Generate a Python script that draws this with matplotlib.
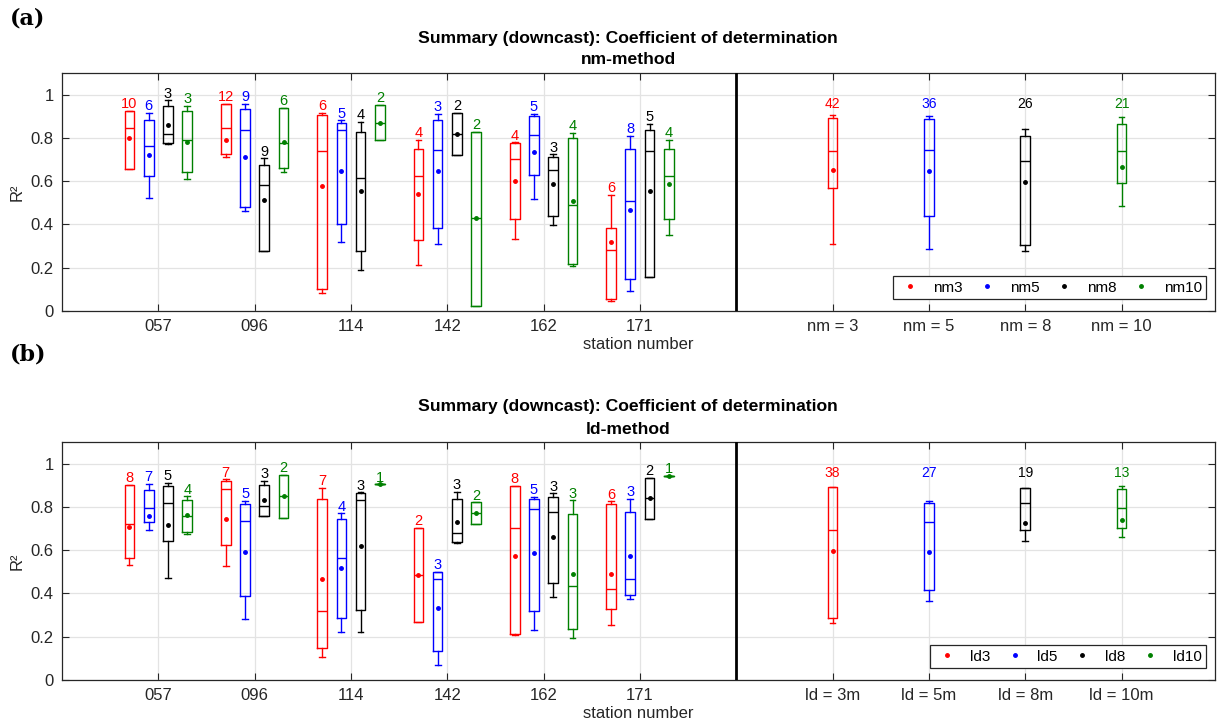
import matplotlib
matplotlib.use('Agg')
import matplotlib.pyplot as plt
from matplotlib.lines import Line2D
import numpy as np

plt.rcParams['font.family'] = ['Liberation Sans', 'DejaVu Sans']

# ---------------- data ----------------
stations = ['057', '096', '114', '142', '162', '171']
colors = ['#ff0000', '#0000ff', '#000000', '#008000']

# nm-method (rows: nm3, nm5, nm8, nm10 ; columns: stations)
nm_names = ['nm3', 'nm5', 'nm8', 'nm10']
nm_sum_ticks = ['nm = 3', 'nm = 5', 'nm = 8', 'nm = 10']
nm_counts = [[10, 12, 6, 4, 4, 6], [6, 9, 5, 3, 5, 8], [3, 9, 4, 2, 3, 5], [3, 6, 2, 2, 4, 4]]
nm_whislo = [[0.658, 0.710, 0.083, 0.214, 0.334, 0.048],
             [0.522, 0.461, 0.317, 0.311, 0.516, 0.091],
             [0.770, 0.276, 0.188, 0.720, 0.398, 0.156],
             [0.609, 0.644, 0.789, 0.025, 0.208, 0.350]]
nm_q1 = [[0.658, 0.727, 0.100, 0.328, 0.427, 0.055],
         [0.622, 0.479, 0.401, 0.384, 0.630, 0.149],
         [0.778, 0.276, 0.276, 0.720, 0.441, 0.156],
         [0.641, 0.663, 0.789, 0.025, 0.217, 0.425]]
nm_med = [[0.847, 0.847, 0.738, 0.626, 0.704, 0.282],
          [0.764, 0.838, 0.837, 0.746, 0.814, 0.508],
          [0.817, 0.584, 0.613, 0.820, 0.653, 0.738],
          [0.792, 0.775, 0.871, 0.428, 0.490, 0.626]]
nm_q3 = [[0.924, 0.957, 0.904, 0.750, 0.777, 0.385],
         [0.883, 0.935, 0.871, 0.883, 0.900, 0.750],
         [0.949, 0.676, 0.829, 0.917, 0.712, 0.838],
         [0.923, 0.937, 0.954, 0.829, 0.800, 0.749]]
nm_whishi = [[0.924, 0.957, 0.915, 0.792, 0.780, 0.538],
             [0.915, 0.958, 0.881, 0.912, 0.912, 0.809],
             [0.974, 0.706, 0.874, 0.917, 0.724, 0.866],
             [0.949, 0.938, 0.954, 0.829, 0.824, 0.792]]
nm_mean = [[0.801, 0.789, 0.578, 0.539, 0.599, 0.320],
           [0.720, 0.713, 0.649, 0.647, 0.735, 0.468],
           [0.858, 0.512, 0.553, 0.820, 0.586, 0.555],
           [0.783, 0.783, 0.871, 0.428, 0.508, 0.587]]
nm_sum_counts = [42, 36, 26, 21]
nm_sum_whislo = [0.311, 0.285, 0.277, 0.484]
nm_sum_q1 = [0.570, 0.439, 0.304, 0.593]
nm_sum_med = [0.741, 0.746, 0.692, 0.741]
nm_sum_q3 = [0.894, 0.886, 0.810, 0.866]
nm_sum_whishi = [0.908, 0.901, 0.840, 0.895]
nm_sum_mean = [0.653, 0.649, 0.598, 0.667]

# ld-method (rows: ld3, ld5, ld8, ld10 ; columns: stations)
ld_names = ['ld3', 'ld5', 'ld8', 'ld10']
ld_sum_ticks = ['ld = 3m', 'ld = 5m', 'ld = 8m', 'ld = 10m']
ld_counts = [[8, 7, 7, 2, 8, 6], [7, 5, 4, 3, 5, 3], [5, 3, 3, 3, 3, 2], [4, 2, 1, 2, 3, 1]]
ld_whislo = [[0.531, 0.529, 0.108, 0.266, 0.206, 0.255],
             [0.691, 0.280, 0.223, 0.068, 0.231, 0.375],
             [0.471, 0.757, 0.220, 0.631, 0.383, 0.743],
             [0.675, 0.751, 0.905, 0.722, 0.192, 0.943]]
ld_q1 = [[0.563, 0.626, 0.146, 0.266, 0.211, 0.326],
         [0.728, 0.388, 0.285, 0.135, 0.318, 0.391],
         [0.643, 0.760, 0.322, 0.638, 0.448, 0.743],
         [0.686, 0.751, 0.905, 0.722, 0.234, 0.943]]
ld_med = [[0.723, 0.885, 0.317, 0.485, 0.703, 0.420],
          [0.795, 0.737, 0.563, 0.468, 0.792, 0.465],
          [0.820, 0.805, 0.834, 0.680, 0.778, 0.840],
          [0.760, 0.851, 0.905, 0.772, 0.435, 0.943]]
ld_q3 = [[0.903, 0.918, 0.837, 0.703, 0.898, 0.815],
         [0.878, 0.814, 0.746, 0.497, 0.835, 0.778],
         [0.898, 0.903, 0.863, 0.838, 0.848, 0.934],
         [0.834, 0.949, 0.905, 0.822, 0.765, 0.943]]
ld_whishi = [[0.903, 0.928, 0.889, 0.703, 0.898, 0.826],
             [0.906, 0.829, 0.771, 0.500, 0.846, 0.838],
             [0.911, 0.922, 0.868, 0.869, 0.863, 0.934],
             [0.849, 0.949, 0.905, 0.822, 0.831, 0.943]]
ld_mean = [[0.705, 0.743, 0.465, 0.485, 0.571, 0.488],
           [0.760, 0.592, 0.517, 0.332, 0.589, 0.571],
           [0.717, 0.831, 0.618, 0.732, 0.663, 0.840],
           [0.762, 0.851, 0.905, 0.772, 0.492, 0.943]]
ld_sum_counts = [38, 27, 19, 13]
ld_sum_whislo = [0.265, 0.363, 0.642, 0.663]
ld_sum_q1 = [0.286, 0.414, 0.695, 0.703]
ld_sum_med = [0.692, 0.728, 0.817, 0.797]
ld_sum_q3 = [0.892, 0.820, 0.888, 0.883]
ld_sum_whishi = [0.892, 0.828, 0.888, 0.898]
ld_sum_mean = [0.594, 0.592, 0.726, 0.740]

# ---------------- figure ----------------
W, H = 1219, 726
fig = plt.figure(figsize=(W / 100, H / 100), dpi=100)

offsets = [-0.3, -0.1, 0.1, 0.3]
dark = '#262626'


def fpx(x, y):
    return x / W, 1 - y / H


def draw_panel(ax, names, sum_ticks, counts, wlo, q1, med, q3, whi, mean,
               s_counts, s_wlo, s_q1, s_med, s_q3, s_whi, s_mean):
    xs = np.arange(1, len(stations) + 1)
    for i, c in enumerate(colors):
        stats = []
        for j in range(len(stations)):
            stats.append(dict(whislo=wlo[i][j], q1=q1[i][j], med=med[i][j],
                              q3=q3[i][j], whishi=whi[i][j], mean=mean[i][j], fliers=[]))
        props = dict(color=c, lw=1.0)
        ax.bxp(stats, positions=xs + offsets[i], widths=0.1, capwidths=0.06,
               showmeans=True, showfliers=False, manage_ticks=False,
               boxprops=props, medianprops=props, whiskerprops=props, capprops=props,
               meanprops=dict(marker='.', markerfacecolor=c, markeredgecolor=c,
                              markersize=5, linestyle='none'))
        for j in range(len(stations)):
            ax.text(xs[j] + offsets[i], whi[i][j] + 0.012, str(counts[i][j]),
                    color=c, ha='center', va='baseline', fontsize=10.5)
    # summary boxes
    sx = np.arange(len(stations) + 2, len(stations) + 2 + len(names))
    for i, c in enumerate(colors):
        st = [dict(whislo=s_wlo[i], q1=s_q1[i], med=s_med[i], q3=s_q3[i],
                   whishi=s_whi[i], mean=s_mean[i], fliers=[])]
        props = dict(color=c, lw=1.0)
        ax.bxp(st, positions=[sx[i]], widths=0.1, capwidths=0.06,
               showmeans=True, showfliers=False, manage_ticks=False,
               boxprops=props, medianprops=props, whiskerprops=props, capprops=props,
               meanprops=dict(marker='.', markerfacecolor=c, markeredgecolor=c,
                              markersize=5, linestyle='none'))
        ax.text(sx[i], 0.937, str(s_counts[i]), color=c, ha='center',
                va='baseline', fontsize=10)
    ax.axvline(len(stations) + 1, color='k', lw=2.0, zorder=5)
    ax.set_xlim(0, 11.97)
    ax.set_ylim(0, 1.1)
    ax.set_xticks(list(xs) + list(sx))
    ax.set_xticklabels(stations + sum_ticks)
    ax.set_yticks([0, 0.2, 0.4, 0.6, 0.8, 1.0])
    ax.set_yticklabels(['0', '0.2', '0.4', '0.6', '0.8', '1'])
    ax.tick_params(direction='in', top=True, right=True, length=5, width=0.8,
                   labelsize=12, colors=dark, labelcolor=dark, pad=6)
    ax.grid(True, color='#e3e3e3', lw=0.9)
    ax.set_axisbelow(True)
    for sp in ax.spines.values():
        sp.set_color(dark)
        sp.set_linewidth(0.9)
    ax.set_xlabel('station number', fontsize=12, color=dark, labelpad=2)
    ax.set_ylabel('R²', fontsize=12, color=dark, labelpad=4)
    handles = [Line2D([], [], marker='.', color=c, linestyle='none', markersize=5)
               for c in colors]
    leg = ax.legend(handles, names, loc='lower right', ncol=4, fontsize=11,
                    bbox_to_anchor=(0.9925, 0.05), borderaxespad=0.0,
                    frameon=True, fancybox=False,
                    edgecolor=dark, handletextpad=0.7, columnspacing=0.8,
                    handlelength=1.6, borderpad=0.3, framealpha=1)
    leg.get_frame().set_linewidth(0.9)


l, b = fpx(62, 311)
ax1 = fig.add_axes([l, b, (1215 - 62) / W, 238 / H])
draw_panel(ax1, nm_names, nm_sum_ticks, nm_counts, nm_whislo, nm_q1, nm_med,
           nm_q3, nm_whishi, nm_mean, nm_sum_counts, nm_sum_whislo, nm_sum_q1,
           nm_sum_med, nm_sum_q3, nm_sum_whishi, nm_sum_mean)

l, b = fpx(62, 680)
ax2 = fig.add_axes([l, b, (1215 - 62) / W, 238 / H])
draw_panel(ax2, ld_names, ld_sum_ticks, ld_counts, ld_whislo, ld_q1, ld_med,
           ld_q3, ld_whishi, ld_mean, ld_sum_counts, ld_sum_whislo, ld_sum_q1,
           ld_sum_med, ld_sum_q3, ld_sum_whishi, ld_sum_mean)

title1 = 'Summary (downcast): Coefficient of determination'
tfs = 12.6
fig.text(*fpx(628, 38), title1, ha='center', va='center', fontsize=tfs, weight='bold')
fig.text(*fpx(628, 60), 'nm-method', ha='center', va='center', fontsize=tfs, weight='bold')
fig.text(*fpx(628, 407), title1, ha='center', va='center', fontsize=tfs, weight='bold')
fig.text(*fpx(628, 429), 'ld-method', ha='center', va='center', fontsize=tfs, weight='bold')

fig.text(*fpx(10, 19), '(a)', ha='left', va='center', fontsize=16,
         family='DejaVu Serif', weight='bold')
fig.text(*fpx(10, 355), '(b)', ha='left', va='center', fontsize=16,
         family='DejaVu Serif', weight='bold')

fig.savefig('out.png', dpi=100)
